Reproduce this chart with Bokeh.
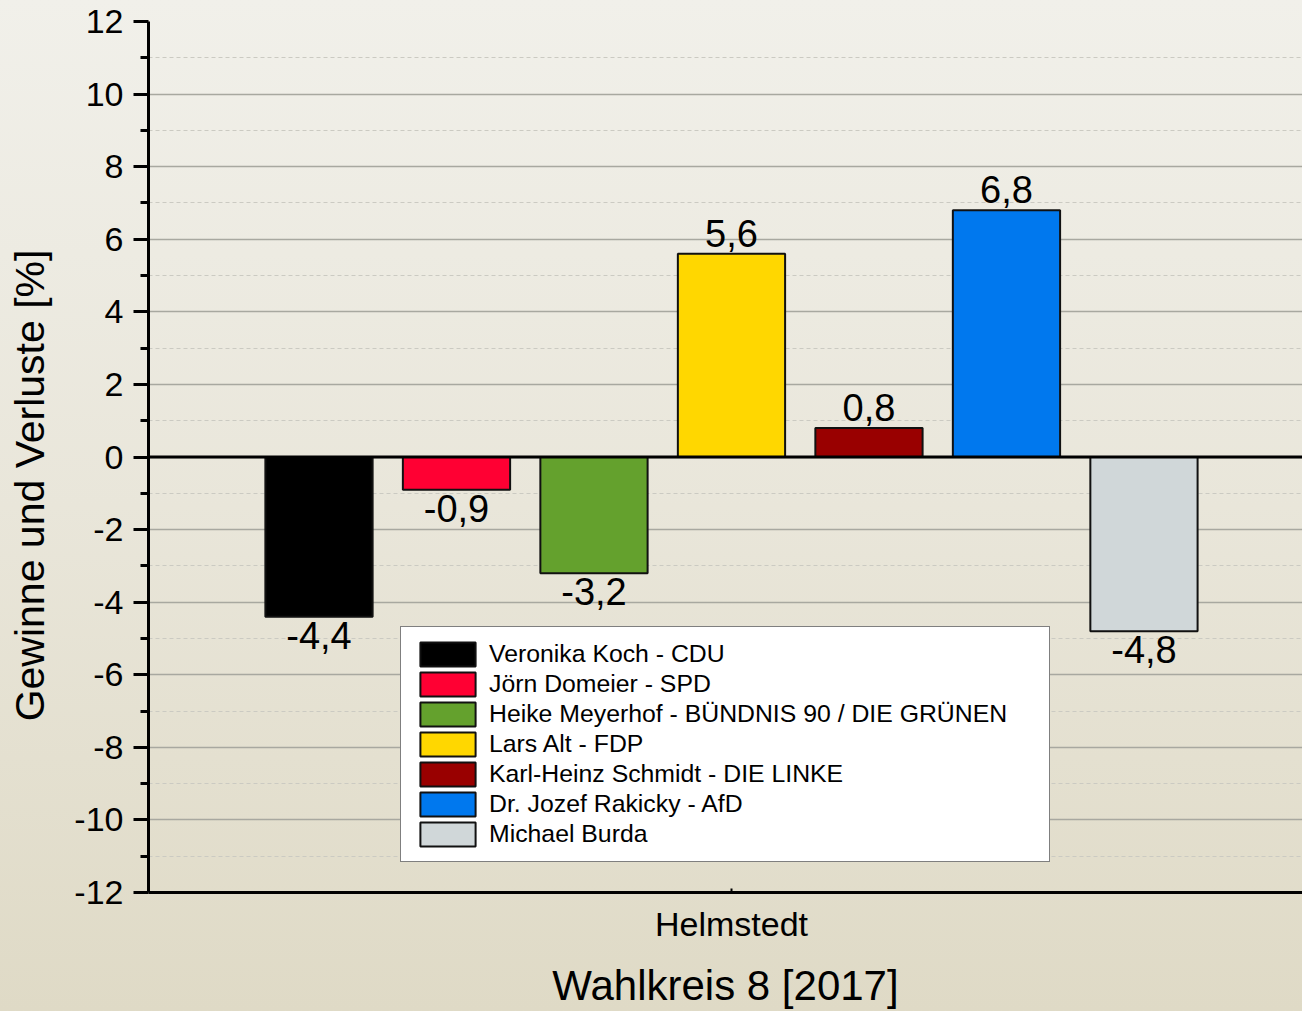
from bokeh.plotting import figure
from bokeh.models import (ColumnDataSource, Range1d, FixedTicker, Span, Legend,
                          LegendItem)
from bokeh.core.properties import value
from bokeh.embed import file_html
from bokeh.resources import INLINE

# ---- data ----
candidates = ["Veronika Koch - CDU", "Jörn Domeier - SPD",
              "Heike Meyerhof - BÜNDNIS 90 / DIE GRÜNEN", "Lars Alt - FDP",
              "Karl-Heinz Schmidt - DIE LINKE", "Dr. Jozef Rakicky - AfD",
              "Michael Burda"]
changes = [-4.4, -0.9, -3.2, 5.6, 0.8, 6.8, -4.8]
colors = ["#000000", "#ff0033", "#64a12d", "#ffd700", "#990000", "#0078ee", "#d0d7d9"]
district = "Helmstedt"
title_text = "Wahlkreis 8 [2017]"
y_label = "Gewinne und Verluste [%]"
y_major = [-12, -10, -8, -6, -4, -2, 0, 2, 4, 6, 8, 10, 12]
y_minor = [-11, -9, -7, -5, -3, -1, 1, 3, 5, 7, 9, 11]

FONT = "Liberation Sans"
positions = list(range(len(changes)))
labels = [f"{v:.1f}".replace(".", ",") for v in changes]

src = ColumnDataSource(dict(x=positions, top=changes, color=colors, name=candidates,
                            label=labels))
pos_src = ColumnDataSource(dict(x=[positions[i] for i, v in enumerate(changes) if v >= 0],
                                y=[v for v in changes if v >= 0],
                                t=[labels[i] for i, v in enumerate(changes) if v >= 0]))
neg_src = ColumnDataSource(dict(x=[positions[i] for i, v in enumerate(changes) if v < 0],
                                y=[v for v in changes if v < 0],
                                t=[labels[i] for i, v in enumerate(changes) if v < 0]))

p = figure(width=1302, height=1011, output_backend="svg", toolbar_location=None,
           x_range=Range1d(-1.24, 7.153), y_range=Range1d(-12, 12),
           min_border_left=148, min_border_top=21, min_border_right=0,
           min_border_bottom=119)
p.stylesheets = [":host { background: linear-gradient(180deg, #f1f0ea 0%, #e9e6da 50%, #dfdac6 100%); }"]
p.background_fill_color = None
p.border_fill_color = None
p.outline_line_color = None

# grid
p.xgrid.visible = False
p.ygrid.grid_line_color = "#a8a8a0"
p.ygrid.grid_line_width = 1.5
p.ygrid.minor_grid_line_color = "#cbcac2"
p.ygrid.minor_grid_line_dash = "4 3"
p.ygrid.minor_grid_line_width = 1

bars = p.vbar(x="x", top="top", bottom=0, width=0.78, source=src,
              fill_color="color", line_color="#111111", line_width=2)

p.add_layout(Span(location=0, dimension="width", line_color="black", line_width=3))

p.text(x="x", y="y", text="t", source=pos_src, text_align="center",
       text_baseline="bottom", y_offset=-7, text_font=value(FONT),
       text_font_size="38px", text_color="black")
p.text(x="x", y="y", text="t", source=neg_src, text_align="center",
       text_baseline="top", y_offset=5, text_font=value(FONT),
       text_font_size="38px", text_color="black")

# y axis
ya = p.yaxis[0]
ya.ticker = FixedTicker(ticks=y_major, minor_ticks=y_minor)
ya.major_label_overrides = {t: str(t) for t in y_major}
ya.axis_line_width = 3
ya.axis_line_color = "black"
ya.major_tick_line_width = 3
ya.minor_tick_line_width = 3
ya.major_tick_out = 15
ya.major_tick_in = 0
ya.minor_tick_out = 8
ya.minor_tick_in = 0
ya.major_label_text_font = FONT
ya.major_label_text_font_size = "34px"
ya.major_label_text_color = "black"
ya.major_label_standoff = 10
ya.axis_label = y_label + "\u00a0" * 5
ya.axis_label_text_font = FONT
ya.axis_label_text_font_size = "41px"
ya.axis_label_text_font_style = "normal"
ya.axis_label_text_color = "black"
ya.axis_label_standoff = 18

# x axis (district tick label + chart title as axis label)
xa = p.xaxis[0]
xa.ticker = FixedTicker(ticks=[3])
xa.major_label_overrides = {3: district}
xa.axis_line_width = 3
xa.axis_line_color = "black"
xa.major_tick_out = 0
xa.major_tick_in = 4
xa.major_tick_line_width = 2
xa.minor_tick_out = 0
xa.minor_tick_in = 0
xa.major_label_text_font = FONT
xa.major_label_text_font_size = "34px"
xa.major_label_text_color = "black"
xa.major_label_standoff = 12
xa.axis_label = title_text
xa.axis_label_text_font = FONT
xa.axis_label_text_font_size = "42px"
xa.axis_label_text_font_style = "normal"
xa.axis_label_text_color = "black"
xa.axis_label_standoff = 16

# legend
items = [LegendItem(label=candidates[i], renderers=[bars], index=i)
         for i in range(len(candidates))]
legend = Legend(items=items, location=(252, 30), orientation="vertical",
                background_fill_color="white", background_fill_alpha=1.0,
                border_line_color="black", border_line_width=1,
                label_text_font=FONT, label_text_font_size="24.8px",
                label_text_color="black",
                glyph_width=69, glyph_height=30, label_height=30,
                label_width=548, label_standoff=7, spacing=0, padding=12, margin=0)
p.add_layout(legend, "center")

open("out.html", "w").write(file_html(p, INLINE))
